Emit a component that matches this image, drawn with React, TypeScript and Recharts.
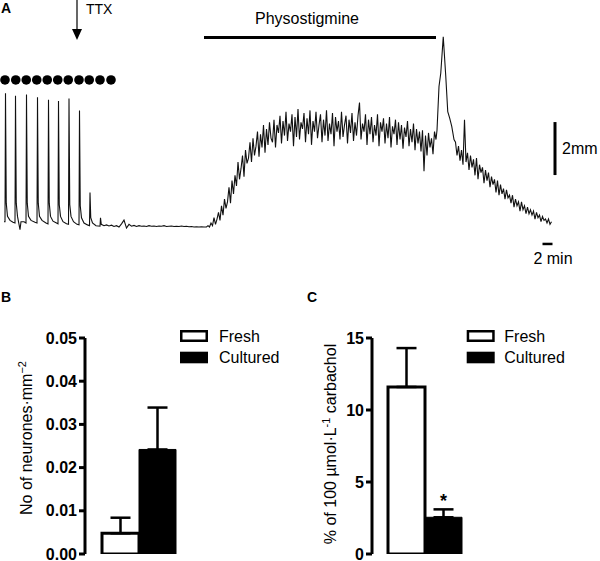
import React from 'react';
import {
  LineChart,
  Line,
  XAxis,
  YAxis,
  ReferenceLine,
  ReferenceDot,
  BarChart,
  Bar,
  ErrorBar,
  LabelList,
} from 'recharts';

const FONT = '"Liberation Sans", Arial, Helvetica, sans-serif';

// ---------- Panel A: contraction trace (time in min, tension in mm) ----------
const spikePhase: [number, number][] = [
  [0, 0.2], [0.2, 0.2], [0.3, 5.05], [0.45, 0.9], [0.7, 0.4], [1.2, 0.25], [1.8, 0.18], [2.2, 0.15],
  [2.3, 4.95], [2.45, 0.9], [2.7, 0.4], [3.2, -0.1], [3.4, 0.2], [4.0, 0.2], [4.4, 0.15],
  [4.5, 5.0], [4.65, 0.9], [4.9, 0.4], [5.4, 0.25], [6.2, 0.18], [6.6, 0.15],
  [6.7, 4.9], [6.85, 0.9], [7.1, 0.4], [7.6, 0.25], [8.4, 0.15], [8.8, 0.12],
  [8.9, 4.8], [9.05, 0.9], [9.3, 0.4], [9.8, 0.22], [10.5, 0.15], [10.8, 0.12],
  [10.9, 4.75], [11.05, 0.85], [11.3, 0.4], [11.8, 0.2], [12.5, 0.12], [12.9, 0.1],
  [13.0, 4.85], [13.15, 0.85], [13.4, 0.4], [13.9, 0.2], [14.6, 0.1], [15.0, 0.08],
  [15.1, 4.4], [15.25, 0.8], [15.5, 0.35], [16.0, 0.15], [16.7, 0.08], [17.1, 0.05],
  [17.2, 1.3], [17.35, 0.35], [17.7, 0.15], [18.4, 0.05], [19.2, 0.03],
  [19.3, 0.35], [19.45, 0.1], [20.0, 0.05],
];

const ttxStart = 20.5;
const ttxStep = 0.5;
const ttxValues = [
  0.08, 0.04, 0.07, 0.02, 0.05, 0.0, 0.12, 0.26, -0.04, 0.1,
  0.03, 0.06, 0.02, 0.05, 0.03, 0.04, 0.02, 0.05, 0.03, 0.04,
  0.02, 0.04, 0.03, 0.05, 0.02, 0.03, 0.04, 0.02, 0.03, 0.02,
  0.04, 0.02, 0.03, 0.01, 0.02, 0.0, 0.01, 0.0, 0.01, 0.0,
];

const physoStart = 40.5;
const physoStep = 0.3;
const physoValues = [
  0.0, 0.05, 0.0, 0.15, 0.05, 0.35, 0.1, 0.3, 0.55, 0.25,
  0.8, 0.45, 1.05, 0.7, 0.95, 1.5, 0.9, 1.75, 1.25, 1.95,
  1.55, 2.45, 1.8, 2.2, 2.7, 1.9, 2.9, 2.4, 2.6, 3.2,
  2.45, 3.35, 2.7, 3.05, 3.6, 2.65, 3.5, 3.0, 3.85, 2.8,
  3.7, 3.1, 3.95, 3.35, 3.2, 4.05, 3.0, 3.85, 3.55, 4.2,
  3.15, 4.0, 3.45, 4.35, 3.25, 3.9, 3.6, 4.25, 3.05, 4.15,
  3.4, 4.45, 3.3, 3.95, 3.7, 4.3, 3.2, 4.1, 3.5, 4.4,
  3.1, 4.0, 3.6, 4.35, 3.35, 3.85, 4.25, 3.2, 4.05, 3.45,
  4.4, 3.25, 3.9, 3.5, 4.3, 3.05, 4.15, 3.6, 4.0, 3.3,
  4.35, 3.4, 3.85, 4.2, 3.15, 4.05, 3.55, 4.3, 3.25, 3.95,
  3.45, 4.2, 4.7, 3.3, 3.9, 3.6, 4.25, 3.1, 4.05, 3.5,
  4.15, 3.2, 3.85, 3.45, 4.25, 3.05, 3.95, 3.6, 4.1, 3.15,
  3.9, 3.35, 4.15, 3.0, 3.8, 3.5, 4.05, 3.1, 3.95, 3.3,
  3.85, 2.95, 3.75, 3.4, 4.0, 3.05, 3.7, 3.2, 3.9, 2.9,
  3.7, 3.15, 3.6, 2.85, 3.65, 2.1, 3.45, 2.7, 3.55, 3.0,
  3.35, 2.75, 3.6,
];

const peakPhase: [number, number][] = [
  [86.4, 3.3], [86.6, 3.65], [87.0, 5.3], [87.35, 5.8], [87.85, 7.18],
  [88.35, 5.7], [88.75, 4.35], [89.15, 4.1], [89.55, 3.8], [90.0, 3.3],
];

const washStart = 90.3;
const washStep = 0.3;
const washValues = [
  3.2, 2.7, 3.05, 2.5, 2.9, 2.35, 4.05, 2.45, 2.8, 2.15,
  2.7, 2.25, 2.55, 1.95, 2.6, 1.8, 2.35, 2.05, 2.25, 1.65,
  2.15, 1.75, 2.05, 1.5, 1.9, 1.6, 1.8, 1.3, 1.75, 1.2,
  1.6, 1.25, 1.45, 1.05, 1.4, 1.1, 1.2, 0.9, 1.2, 0.75,
  1.05, 0.8, 0.95, 0.6, 0.95, 0.65, 0.8, 0.5, 0.75, 0.5,
  0.65, 0.45, 0.6, 0.3, 0.55, 0.35, 0.45, 0.2, 0.4, 0.25,
  0.3, 0.15, 0.3, 0.1, 0.2,
];

const stimTimes = [0.2, 2.35, 4.45, 6.55, 8.65, 10.75, 12.85, 15.0, 17.05, 19.2, 21.4];
const stimLevel = 5.55;
const ttxTime = 14.6;
const physoPeriod = [40, 86.4];
const physoBarLevel = 7.15;
const scaleMm = 2;
const scaleMin = 2;

const trace = [
  ...spikePhase.map(([t, v]) => ({ t, v })),
  ...ttxValues.map((v, i) => ({ t: ttxStart + i * ttxStep, v })),
  ...physoValues.map((v, i) => ({ t: physoStart + i * physoStep, v })),
  ...peakPhase.map(([t, v]) => ({ t, v })),
  ...washValues.map((v, i) => ({ t: washStart + i * washStep, v })),
];

// ---------- Panel B & C ----------
const groups = ['Fresh', 'Cultured'];
const neuronMean = [0.0048, 0.0242];
const neuronSem = [0.0036, 0.0097];
const neuronTicks = [0, 0.01, 0.02, 0.03, 0.04, 0.05];
const carbMean = [11.6, 2.55];
const carbSem = [2.7, 0.55];
const carbTicks = [0, 5, 10, 15];
const carbSig = ['', '*'];

const neuronData = [
  {
    name: 'B',
    fresh: neuronMean[0],
    cultured: neuronMean[1],
    freshErr: [0, neuronSem[0]],
    culturedErr: [0, neuronSem[1]],
  },
];
const carbData = [
  {
    name: 'C',
    fresh: carbMean[0],
    cultured: carbMean[1],
    freshErr: [0, carbSem[0]],
    culturedErr: [0, carbSem[1]],
    freshSig: carbSig[0],
    culturedSig: carbSig[1],
  },
];

const axisStyle = { stroke: '#000', strokeWidth: 3 };
const tickStyle = { fill: '#000', fontSize: 16, fontWeight: 'bold' as const, fontFamily: FONT };

const renderStar = (p: any) => {
  if (!p.value) return null;
  return (
    <text
      x={p.x + p.width / 2}
      y={p.y - 10}
      textAnchor="middle"
      fontSize={18}
      fontWeight="bold"
      fontFamily={FONT}
      fill="#000"
    >
      {p.value}
    </text>
  );
};

function Legend2({ boxX, textX }: { boxX: number; textX: number }) {
  return (
    <g>
      <rect x={boxX + 1.25} y={331.25} width={25.5} height={9.5} fill="#fff" stroke="#000" strokeWidth={2.5} />
      <text x={textX} y={341.5} fontSize={16} fontFamily={FONT} fill="#000">{groups[0]}</text>
      <rect x={boxX} y={351.7} width={28} height={11.6} fill="#000" />
      <text x={textX} y={363} fontSize={16} fontFamily={FONT} fill="#000">{groups[1]}</text>
    </g>
  );
}

export default function App() {
  return (
    <div style={{ position: 'absolute', left: 0, top: 0, width: 600, height: 561, background: '#fff', overflow: 'hidden', fontFamily: FONT }}>
      {/* Panel A */}
      <div style={{ position: 'absolute', left: 0, top: 0 }}>
        <LineChart width={600} height={272} data={trace} margin={{ top: 1.75, right: 36, bottom: 5.25, left: 4 }}>
          <XAxis type="number" dataKey="t" domain={[0, 112]} hide allowDataOverflow />
          <YAxis type="number" domain={[-1.5, 8.5]} hide allowDataOverflow />
          <Line dataKey="v" type="linear" stroke="#111" strokeWidth={1.1} dot={false} isAnimationActive={false} />
          <ReferenceLine
            segment={[{ x: physoPeriod[0], y: physoBarLevel }, { x: physoPeriod[1], y: physoBarLevel }]}
            stroke="#000"
            strokeWidth={3}
            ifOverflow="visible"
          />
          <ReferenceLine
            segment={[{ x: ttxTime, y: 8.6 }, { x: ttxTime, y: 7.4 }]}
            stroke="#000"
            strokeWidth={1.2}
            ifOverflow="visible"
          />
          <ReferenceDot
            x={ttxTime}
            y={7.06}
            r={5}
            ifOverflow="visible"
            shape={(p: any) => (
              <path d={`M${p.cx - 5},${p.cy - 11}L${p.cx + 5},${p.cy - 11}L${p.cx},${p.cy}Z`} fill="#000" />
            )}
          />
          {stimTimes.map((t) => (
            <ReferenceDot key={t} x={t} y={stimLevel} r={4.8} fill="#000" stroke="none" ifOverflow="visible" />
          ))}
          <ReferenceLine
            segment={[{ x: 110.2, y: 1.96 }, { x: 110.2, y: 1.96 + scaleMm }]}
            stroke="#000"
            strokeWidth={3}
            ifOverflow="visible"
          />
          <ReferenceLine
            segment={[{ x: 109.7 - scaleMin, y: -0.64 }, { x: 109.7, y: -0.64 }]}
            stroke="#000"
            strokeWidth={2.5}
            ifOverflow="visible"
          />
        </LineChart>
      </div>

      {/* Panel B */}
      <div style={{ position: 'absolute', left: 0, top: 300 }}>
        <BarChart width={300} height={261} data={neuronData} margin={{ top: 38, right: 108, bottom: 7, left: 0 }} barGap={0} barSize={37}>
          <XAxis dataKey="name" tick={false} tickLine={false} axisLine={axisStyle} height={0} />
          <YAxis
            width={85}
            domain={[0, 0.05]}
            ticks={neuronTicks}
            interval={0}
            tickFormatter={(v: number) => v.toFixed(2)}
            axisLine={axisStyle}
            tickLine={axisStyle}
            tickSize={6}
            tickMargin={2}
            tick={tickStyle}
            allowDataOverflow
          />
          <Bar dataKey="fresh" fill="#fff" stroke="#000" strokeWidth={3} isAnimationActive={false}>
            <ErrorBar dataKey="freshErr" width={10} stroke="#000" strokeWidth={2.5} direction="y" />
          </Bar>
          <Bar dataKey="cultured" fill="#000" stroke="#000" strokeWidth={1} isAnimationActive={false}>
            <ErrorBar dataKey="culturedErr" width={10} stroke="#000" strokeWidth={2.5} direction="y" />
          </Bar>
        </BarChart>
      </div>

      {/* Panel C */}
      <div style={{ position: 'absolute', left: 300, top: 300 }}>
        <BarChart width={300} height={261} data={carbData} margin={{ top: 38, right: 123, bottom: 7, left: 0 }} barGap={0} barSize={37}>
          <XAxis dataKey="name" tick={false} tickLine={false} axisLine={axisStyle} height={0} />
          <YAxis
            width={72}
            domain={[0, 15]}
            ticks={carbTicks}
            interval={0}
            axisLine={axisStyle}
            tickLine={axisStyle}
            tickSize={6}
            tickMargin={2}
            tick={tickStyle}
            allowDataOverflow
          />
          <Bar dataKey="fresh" fill="#fff" stroke="#000" strokeWidth={3} isAnimationActive={false}>
            <ErrorBar dataKey="freshErr" width={10} stroke="#000" strokeWidth={2.5} direction="y" />
          </Bar>
          <Bar dataKey="cultured" fill="#000" stroke="#000" strokeWidth={1} isAnimationActive={false}>
            <ErrorBar dataKey="culturedErr" width={10} stroke="#000" strokeWidth={2.5} direction="y" />
            <LabelList dataKey="culturedSig" content={renderStar} />
          </Bar>
        </BarChart>
      </div>

      {/* Text annotations */}
      <svg width={600} height={561} style={{ position: 'absolute', left: 0, top: 0, pointerEvents: 'none' }}>
        <g fontFamily={FONT} fill="#000">
          <text x={1} y={13} fontSize={14} fontWeight="bold">A</text>
          <text x={86} y={13.5} fontSize={14}>TTX</text>
          <text x={307} y={23.5} fontSize={16} textAnchor="middle">Physostigmine</text>
          <text x={562} y={154} fontSize={16}>2mm</text>
          <text x={553} y={263.5} fontSize={16} textAnchor="middle">2 min</text>

          <text x={1} y={302} fontSize={14} fontWeight="bold">B</text>
          <text x={307} y={302} fontSize={14} fontWeight="bold">C</text>

          <text transform="translate(32,438) rotate(-90)" fontSize={16} textAnchor="middle">
            No of neurones·mm<tspan dy={-6} fontSize={11}>−2</tspan>
          </text>
          <text transform="translate(336,444) rotate(-90)" fontSize={16} textAnchor="middle">
            % of 100 µmol·L<tspan dy={-6} fontSize={11}>-1</tspan>
            <tspan dy={6}> carbachol</tspan>
          </text>

          <Legend2 boxX={180} textX={219} />
          <Legend2 boxX={466.7} textX={504.3} />
        </g>
      </svg>
    </div>
  );
}
